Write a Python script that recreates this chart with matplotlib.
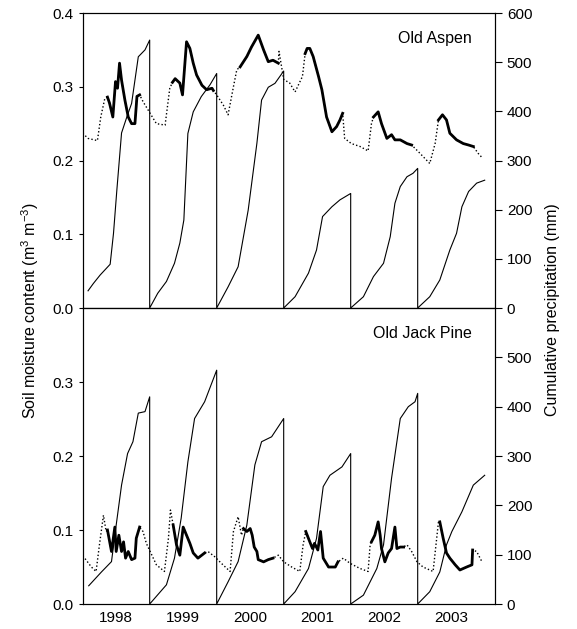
import numpy as np
import matplotlib
matplotlib.use("Agg")
import matplotlib.pyplot as plt

plt.rcParams['font.family'] = ['Liberation Sans', 'DejaVu Sans']
plt.rcParams['mathtext.fontset'] = 'custom'
plt.rcParams['mathtext.rm'] = 'Liberation Sans'
plt.rcParams['mathtext.it'] = 'Liberation Sans'

years = [1998, 1999, 2000, 2001, 2002, 2003]
year_labels = ["1998", "1999", "2000", "2001", "2002", "2003"]

# Old Aspen - cumulative precipitation (mm), resets each year
aspen_precip_t = [1998.08, 1998.16, 1998.26, 1998.41, 1998.46, 1998.51, 1998.58, 1998.66, 1998.73, 1998.83, 1998.93, 1999.0,
                  1999.0, 1999.12, 1999.25, 1999.37, 1999.45, 1999.51, 1999.57, 1999.65, 1999.77, 1999.90, 2000.0,
                  2000.0, 2000.17, 2000.32, 2000.47, 2000.60, 2000.67, 2000.77, 2000.87, 2001.0,
                  2001.0, 2001.17, 2001.37, 2001.49, 2001.58, 2001.72, 2001.84, 2002.0,
                  2002.0, 2002.19, 2002.34, 2002.49, 2002.59, 2002.66, 2002.74, 2002.84, 2002.93, 2003.0,
                  2003.0, 2003.18, 2003.33, 2003.48, 2003.58, 2003.66, 2003.76, 2003.88, 2004.0]
aspen_precip = [35, 50, 67, 89, 152, 240, 356, 389, 416, 511, 525, 545,
                0, 30, 54, 91, 132, 179, 355, 399, 430, 454, 477,
                0, 43, 84, 199, 335, 423, 449, 457, 482,
                0, 23, 71, 118, 186, 206, 220, 233,
                0, 23, 64, 91, 145, 213, 247, 267, 274, 284,
                0, 23, 57, 118, 152, 206, 237, 254, 260]

# Old Aspen - soil moisture (m3 m-3); measured = 1 (solid), 0 (dotted)
aspen_sm_t = [1998.00, 1998.08, 1998.22, 1998.27, 1998.33, 1998.37, 1998.40, 1998.45, 1998.49, 1998.52,
              1998.55, 1998.58, 1998.63, 1998.68, 1998.73, 1998.78, 1998.81, 1998.85, 1998.90, 1999.00,
              1999.10, 1999.23, 1999.30, 1999.34, 1999.38, 1999.45, 1999.49, 1999.55, 1999.60, 1999.65,
              1999.70, 1999.78, 1999.85, 1999.93, 1999.95, 2000.00, 2000.10, 2000.17, 2000.25, 2000.30,
              2000.35, 2000.45, 2000.52, 2000.62, 2000.70, 2000.77, 2000.84, 2000.92, 2000.93, 2001.00,
              2001.09, 2001.17, 2001.28, 2001.32, 2001.35, 2001.39, 2001.44, 2001.52, 2001.57, 2001.64,
              2001.72, 2001.79, 2001.84, 2001.88, 2001.91, 2002.01, 2002.14, 2002.26, 2002.31, 2002.34,
              2002.41, 2002.46, 2002.54, 2002.61, 2002.66, 2002.74, 2002.84, 2002.91, 2003.01, 2003.18,
              2003.26, 2003.31, 2003.37, 2003.43, 2003.48, 2003.58, 2003.68, 2003.76, 2003.83, 2003.90,
              2003.97]
aspen_sm = [0.237, 0.230, 0.227, 0.259, 0.284, 0.286, 0.278, 0.259, 0.307, 0.298,
            0.332, 0.309, 0.282, 0.259, 0.250, 0.250, 0.287, 0.289, 0.280, 0.265,
            0.250, 0.248, 0.298, 0.306, 0.311, 0.305, 0.289, 0.361, 0.352, 0.332,
            0.316, 0.302, 0.296, 0.298, 0.295, 0.289, 0.275, 0.262, 0.300, 0.323,
            0.327, 0.341, 0.354, 0.370, 0.350, 0.334, 0.336, 0.332, 0.348, 0.310,
            0.305, 0.293, 0.314, 0.345, 0.352, 0.352, 0.341, 0.314, 0.296, 0.259,
            0.239, 0.246, 0.255, 0.264, 0.230, 0.223, 0.219, 0.213, 0.250, 0.259,
            0.266, 0.250, 0.230, 0.235, 0.228, 0.228, 0.223, 0.221, 0.212, 0.196,
            0.223, 0.255, 0.262, 0.255, 0.237, 0.228, 0.223, 0.221, 0.219, 0.210,
            0.203]
aspen_measured = [0, 0, 0, 0, 0, 1, 1, 1, 1, 1,
                  1, 1, 1, 1, 1, 1, 1, 1, 0, 0,
                  0, 0, 0, 1, 1, 1, 1, 1, 1, 1,
                  1, 1, 1, 1, 1, 0, 0, 0, 0, 0,
                  1, 1, 1, 1, 1, 1, 1, 1, 0, 0,
                  0, 0, 0, 1, 1, 1, 1, 1, 1, 1,
                  1, 1, 1, 1, 0, 0, 0, 0, 0, 1,
                  1, 1, 1, 1, 1, 1, 1, 1, 0, 0,
                  0, 1, 1, 1, 1, 1, 1, 1, 1, 0,
                  0]

# Old Jack Pine - cumulative precipitation (mm)
pine_precip_t = [1998.09, 1998.28, 1998.43, 1998.50, 1998.58, 1998.67, 1998.75, 1998.83, 1998.93, 1999.0,
                 1999.0, 1999.25, 1999.37, 1999.47, 1999.57, 1999.67, 1999.82, 2000.0,
                 2000.0, 2000.17, 2000.32, 2000.45, 2000.57, 2000.67, 2000.82, 2001.0,
                 2001.0, 2001.17, 2001.37, 2001.49, 2001.59, 2001.69, 2001.87, 2002.0,
                 2002.0, 2002.19, 2002.39, 2002.49, 2002.61, 2002.74, 2002.86, 2002.96, 2003.0,
                 2003.0, 2003.18, 2003.33, 2003.43, 2003.51, 2003.66, 2003.83, 2004.0]
pine_precip = [37, 65, 86, 160, 241, 305, 329, 387, 390, 420,
               0, 39, 93, 174, 288, 376, 410, 474,
               0, 45, 86, 160, 282, 329, 339, 376,
               0, 25, 72, 133, 238, 261, 278, 305,
               0, 18, 72, 120, 255, 376, 400, 410, 427,
               0, 25, 65, 120, 147, 187, 241, 261]

# Old Jack Pine - soil moisture (m3 m-3)
pine_sm_t = [1998.00, 1998.03, 1998.13, 1998.20, 1998.25, 1998.31, 1998.35, 1998.37, 1998.43, 1998.48,
             1998.50, 1998.54, 1998.58, 1998.61, 1998.64, 1998.68, 1998.73, 1998.78, 1998.80, 1998.85,
             1998.90, 1998.95, 1999.10, 1999.22, 1999.28, 1999.31, 1999.35, 1999.40, 1999.45, 1999.50,
             1999.55, 1999.60, 1999.65, 1999.72, 1999.82, 1999.87, 1999.97, 2000.07, 2000.20, 2000.25,
             2000.32, 2000.37, 2000.40, 2000.45, 2000.50, 2000.53, 2000.56, 2000.60, 2000.62, 2000.70,
             2000.77, 2000.84, 2000.92, 2001.00, 2001.12, 2001.24, 2001.29, 2001.33, 2001.39, 2001.43,
             2001.46, 2001.51, 2001.55, 2001.59, 2001.67, 2001.77, 2001.81, 2001.89, 2001.99, 2002.14,
             2002.26, 2002.29, 2002.31, 2002.36, 2002.41, 2002.44, 2002.46, 2002.51, 2002.56, 2002.61,
             2002.66, 2002.69, 2002.74, 2002.79, 2002.84, 2002.91, 2002.99, 2003.08, 2003.23, 2003.31,
             2003.33, 2003.38, 2003.43, 2003.48, 2003.56, 2003.63, 2003.73, 2003.81, 2003.82, 2003.88,
             2003.96]
pine_sm = [0.065, 0.062, 0.050, 0.044, 0.080, 0.120, 0.098, 0.100, 0.071, 0.104,
           0.071, 0.093, 0.071, 0.084, 0.062, 0.071, 0.060, 0.062, 0.089, 0.104,
           0.098, 0.082, 0.053, 0.044, 0.089, 0.127, 0.107, 0.080, 0.066, 0.104,
           0.093, 0.082, 0.069, 0.062, 0.069, 0.071, 0.064, 0.055, 0.044, 0.098,
           0.118, 0.093, 0.102, 0.098, 0.102, 0.093, 0.077, 0.071, 0.060, 0.057,
           0.060, 0.062, 0.066, 0.057, 0.050, 0.044, 0.080, 0.098, 0.084, 0.075,
           0.082, 0.073, 0.098, 0.062, 0.050, 0.050, 0.057, 0.062, 0.055, 0.048,
           0.044, 0.080, 0.084, 0.093, 0.111, 0.093, 0.075, 0.057, 0.069, 0.075,
           0.104, 0.075, 0.077, 0.077, 0.080, 0.071, 0.057, 0.050, 0.044, 0.111,
           0.111, 0.089, 0.069, 0.062, 0.053, 0.046, 0.050, 0.053, 0.073, 0.071,
           0.057]
pine_measured = [0, 0, 0, 0, 0, 0, 0, 1, 1, 1,
                 1, 1, 1, 1, 1, 1, 1, 1, 1, 1,
                 0, 0, 0, 0, 0, 0, 1, 1, 1, 1,
                 1, 1, 1, 1, 1, 0, 0, 0, 0, 0,
                 0, 0, 1, 1, 1, 1, 1, 1, 1, 1,
                 1, 1, 0, 0, 0, 0, 0, 1, 1, 1,
                 1, 1, 1, 1, 1, 1, 1, 0, 0, 0,
                 0, 0, 1, 1, 1, 1, 1, 1, 1, 1,
                 1, 1, 1, 1, 0, 0, 0, 0, 0, 0,
                 1, 1, 1, 1, 1, 1, 1, 1, 1, 0,
                 0]


def draw_panel(ax, sm_t, sm, measured, precip_t, precip, sm_max, precip_max, title):
    sm = np.array(sm)
    solid = np.where(np.array(measured) == 1, sm, np.nan)
    ax.plot(sm_t, sm, color='black', lw=1.0, ls=(0, (1, 1.6)))
    ax.plot(sm_t, solid, color='black', lw=2.0)
    ax.set_ylim(0, 0.4)
    ax.set_yticks(np.arange(0, sm_max + 0.001, 0.1))
    ax.set_yticklabels(["%.1f" % v for v in np.arange(0, sm_max + 0.001, 0.1)])
    ax.tick_params(axis='y', direction='out', length=3, width=0.8, labelsize=11)

    ax2 = ax.twinx()
    ax2.plot(precip_t, precip, color='black', lw=0.8)
    ax2.set_ylim(0, 600)
    ax2.set_yticks(np.arange(0, precip_max + 1, 100))
    ax2.tick_params(axis='y', direction='out', length=5, width=0.8, labelsize=11)

    ax.set_xlim(1998.0, 2004.154)
    for a in (ax, ax2):
        for s in a.spines.values():
            s.set_linewidth(0.8)
    ax.text(0.943, 0.915, title, transform=ax.transAxes, ha='right', va='center', fontsize=11.5)
    return ax2


fig = plt.figure(figsize=(5.77, 6.29), dpi=100)
ax_top = fig.add_axes([0.1433, 0.5103, 0.7146, 0.4690])
ax_bot = fig.add_axes([0.1433, 0.0397, 0.7146, 0.4706])

draw_panel(ax_top, aspen_sm_t, aspen_sm, aspen_measured, aspen_precip_t, aspen_precip, 0.4, 600, "Old Aspen")
draw_panel(ax_bot, pine_sm_t, pine_sm, pine_measured, pine_precip_t, pine_precip, 0.3, 500, "Old Jack Pine")

ax_top.set_xticks([])
ax_bot.set_xticks([y + 0.5 for y in years])
ax_bot.set_xticklabels(year_labels)
ax_bot.tick_params(axis='x', length=0, labelsize=11, pad=5)

fig.text(0.052, 0.507, 'Soil moisture content (m$^3$ m$^{-3}$)', rotation=90,
         ha='center', va='center', fontsize=11.5)
fig.text(0.958, 0.507, 'Cumulative precipitation (mm)', rotation=90,
         ha='center', va='center', fontsize=11.5)

fig.savefig("out.png", dpi=100)
